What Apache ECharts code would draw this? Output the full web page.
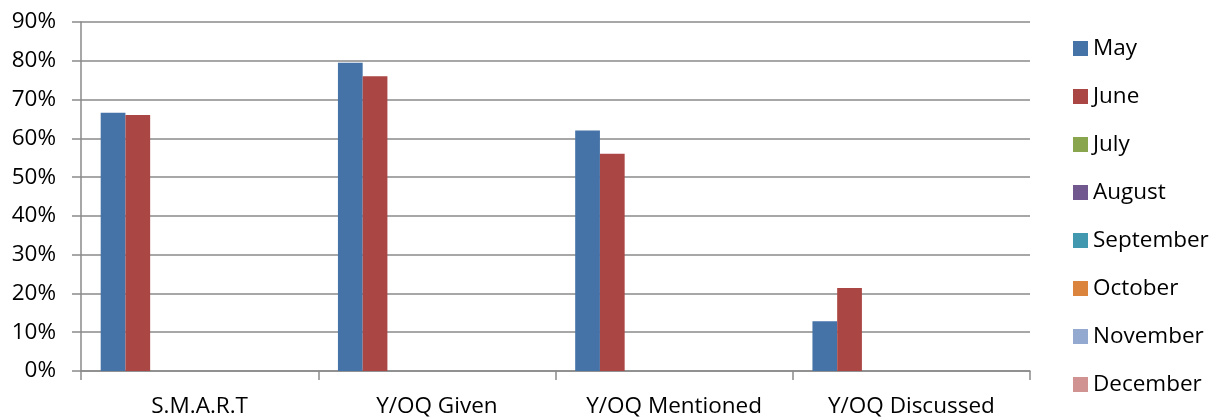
<!DOCTYPE html>
<html>
<head>
<meta charset="utf-8">
<script src="https://cdn.jsdelivr.net/npm/echarts@6/dist/echarts.min.js"></script>
<style>
  html, body { margin: 0; padding: 0; background: #fff; }
  #chart { width: 1217px; height: 420px; }
</style>
</head>
<body>
<div id="chart"></div>
<script>
// Categories along the x axis
const categories = ['S.M.A.R.T', 'Y/OQ Given', 'Y/OQ Mentioned', 'Y/OQ Discussed'];

// Monthly series (percent); months without data are left empty
const months = ['May', 'June', 'July', 'August', 'September', 'October', 'November', 'December'];
const may = [66.6, 79.5, 62, 12.8];
const june = [66, 76, 56, 21.4];
const july = [null, null, null, null];
const august = [null, null, null, null];
const september = [null, null, null, null];
const october = [null, null, null, null];
const november = [null, null, null, null];
const december = [null, null, null, null];

const seriesValues = [may, june, july, august, september, october, november, december];
const colors = ['#4572A7', '#AA4643', '#89A54E', '#71588F', '#4198AF', '#DB843D', '#93A9CF', '#D19392'];

const font = '"Open Sans", "Liberation Sans", sans-serif';
const axisGray = '#8a8a8a';

const chart = echarts.init(document.getElementById('chart'), null, { renderer: 'canvas' });

chart.setOption({
  animation: false,
  color: colors,
  grid: { left: 81, right: 187, top: 22, bottom: 49, containLabel: false },
  legend: {
    orient: 'vertical',
    left: 1068,
    top: 32,
    itemWidth: 15,
    itemHeight: 15,
    itemGap: 25,
    icon: 'rect',
    textStyle: { fontFamily: font, fontSize: 22.5, color: '#000', lineHeight: 23 },
    data: months
  },
  xAxis: {
    type: 'category',
    data: categories,
    axisLine: { lineStyle: { color: axisGray, width: 1.5 } },
    axisTick: { show: true, length: 9, lineStyle: { color: axisGray, width: 1.5 } },
    axisLabel: { fontFamily: font, fontSize: 22.5, color: '#000', margin: 24 }
  },
  yAxis: {
    type: 'value',
    min: 0,
    max: 90,
    interval: 10,
    axisLine: { show: true, lineStyle: { color: axisGray, width: 1.5 } },
    axisTick: { show: true, length: 9, lineStyle: { color: axisGray, width: 1.5 } },
    axisLabel: { fontFamily: font, fontSize: 22.5, color: '#000', margin: 25, formatter: '{value}%' },
    splitLine: { lineStyle: { color: axisGray, width: 1.5 } }
  },
  series: months.map((m, i) => ({
    name: m,
    type: 'bar',
    data: seriesValues[i],
    barGap: '0%',
    barCategoryGap: '16.6%',
    itemStyle: { color: colors[i] }
  }))
});
</script>
</body>
</html>
